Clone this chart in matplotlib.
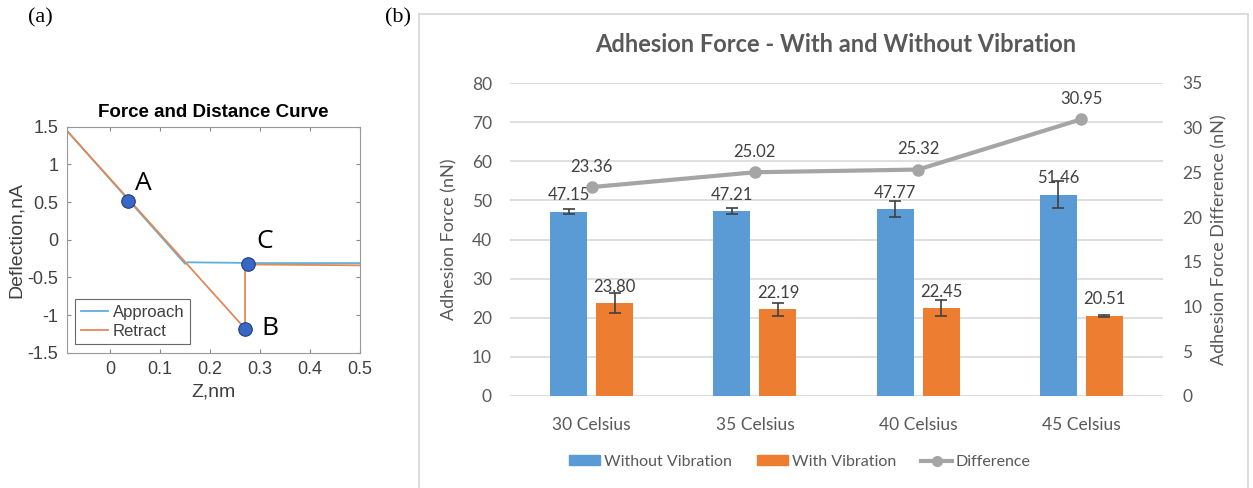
import numpy as np
import matplotlib
matplotlib.use("Agg")
import matplotlib.pyplot as plt
from matplotlib.patches import Patch
from matplotlib.lines import Line2D

# ---- panel (a) data: force / distance curve
approach_z = [-0.087, 0.15, 0.155, 0.30, 0.50]
approach_defl = [1.45, -0.32, -0.30, -0.31, -0.31]
retract_z = [-0.087, 0.27, 0.27, 0.30, 0.50]
retract_defl = [1.45, -1.18, -0.33, -0.33, -0.34]
point_names = ['A', 'B', 'C']
point_z = [0.035, 0.27, 0.275]
point_defl = [0.52, -1.18, -0.32]

# ---- panel (b) data: adhesion force
categories = ['30 Celsius', '35 Celsius', '40 Celsius', '45 Celsius']
without_vib = [47.15, 47.21, 47.77, 51.46]
without_err = [0.75, 0.8, 2.0, 3.4]
with_vib = [23.80, 22.19, 22.45, 20.51]
with_err = [2.5, 1.7, 2.0, 0.3]
difference = [23.36, 25.02, 25.32, 30.95]

W, H = 1253, 488
fig = plt.figure(figsize=(W / 100, H / 100), dpi=100)

def box(x0, y0, x1, y1):
    """pixel box (top-left origin) -> figure fraction rect"""
    return [x0 / W, 1 - y1 / H, (x1 - x0) / W, (y1 - y0) / H]

# panel labels
fig.text(28 / W, 1 - 18 / H, '(a)', family='Liberation Serif', fontsize=16, ha='left', va='center')
fig.text(385 / W, 1 - 18 / H, '(b)', family='Liberation Serif', fontsize=16, ha='left', va='center')

# border around panel (b)
bc = '#d9d9d9'
fig.add_artist(Line2D([419 / W, 419 / W], [0, 1 - 14 / H], color=bc, lw=1.3, transform=fig.transFigure))
fig.add_artist(Line2D([419 / W, 1248 / W], [1 - 14 / H, 1 - 14 / H], color=bc, lw=1.3, transform=fig.transFigure))
fig.add_artist(Line2D([1248 / W, 1248 / W], [0, 1 - 14 / H], color=bc, lw=1.3, transform=fig.transFigure))

# ================= panel (a)
af = 'Liberation Sans'
ac = '#404040'
ax1 = fig.add_axes(box(66.7, 126.7, 360, 352.7))
ax1.plot(approach_z, approach_defl, color='#5fb0d8', lw=1.3, label='Approach')
ax1.plot(retract_z, retract_defl, color='#e08a58', lw=1.3, label='Retract')
ax1.scatter(point_z, point_defl, s=95, color='#3a66c4', edgecolor='#1f3f8a', lw=0.8, zorder=5)
offsets = [(5, 12), (12, 0), (6.5, 16)]
for n, z, d, off in zip(point_names, point_z, point_defl, offsets):
    ax1.annotate(n, (z, d), xytext=off, textcoords='offset points', family='Open Sans',
                 fontsize=19, ha='left', va='center')
ax1.set_xlim(-0.087, 0.5)
ax1.set_ylim(-1.5, 1.5)
xt = [0, 0.1, 0.2, 0.3, 0.4, 0.5]
yt = [-1.5, -1, -0.5, 0, 0.5, 1, 1.5]
ax1.set_xticks(xt)
ax1.set_xticklabels(['0', '0.1', '0.2', '0.3', '0.4', '0.5'], family=af, fontsize=13, color=ac)
ax1.set_yticks(yt)
ax1.set_yticklabels(['-1.5', '-1', '-0.5', '0', '0.5', '1', '1.5'], family=af, fontsize=13, color=ac)
ax1.tick_params(direction='in', top=True, right=True, length=3, color='#888888', pad=6)
for s in ax1.spines.values():
    s.set_color('#999999')
    s.set_linewidth(0.8)
ax1.set_xlabel('Z,nm', family=af, fontsize=14, color=ac, labelpad=4)
ax1.set_ylabel('Deflection,nA', family=af, fontsize=14, color=ac, labelpad=2)
ax1.set_title('Force and Distance Curve', family=af, fontsize=13.5, fontweight='bold', pad=7)
leg1 = ax1.legend(loc='lower left', prop={'family': af, 'size': 12}, fancybox=False,
                  edgecolor='#444444', handlelength=1.6, borderaxespad=0.5, labelspacing=0.2,
                  borderpad=0.35, handletextpad=0.3)
leg1.get_frame().set_linewidth(0.8)
for t in leg1.get_texts():
    t.set_color(ac)

# ================= panel (b)
bf = ['Lato', 'DejaVu Sans']
tc = '#595959'
ax2 = fig.add_axes(box(510, 83, 1163, 396))
x = np.arange(len(categories))
bw = 0.227
off = 0.141
ax2.bar(x - off, without_vib, bw, color='#5b9bd5', zorder=3, label='Without Vibration')
ax2.bar(x + off, with_vib, bw, color='#ed7d31', zorder=3, label='With Vibration')
ax2.errorbar(x - off, without_vib, yerr=without_err, fmt='none', ecolor='#404040', elinewidth=1.2,
             capsize=4, capthick=1.2, zorder=4)
ax2.errorbar(x + off, with_vib, yerr=with_err, fmt='none', ecolor='#404040', elinewidth=1.2,
             capsize=4, capthick=1.2, zorder=4)
for xs, vals in ((x - off, without_vib), (x + off, with_vib)):
    for xi, v in zip(xs, vals):
        ax2.annotate(f'{v:.2f}', (xi, v), xytext=(0, 6), textcoords='offset points',
                     ha='center', va='bottom', family=bf, fontsize=12, color='#404040', zorder=6)
ax2.set_ylim(0, 80)
ax2.set_yticks(range(0, 81, 10))
ax2.set_xlim(-0.5, 3.5)
ax2.set_xticks(x)
ax2.set_xticklabels(categories, family=bf, fontsize=13, color=tc)
ax2.grid(axis='y', color='#d9d9d9', lw=1.2, zorder=0)
ax2.set_axisbelow(True)
for s in ax2.spines.values():
    s.set_visible(False)
ax2.tick_params(length=0, labelsize=12.5, labelcolor=tc, pad=13)
ax2.tick_params(axis='x', pad=15)
for t in ax2.get_yticklabels():
    t.set_family(bf)
ax2.set_ylabel('Adhesion Force (nN)', family=bf, fontsize=13, color=tc, labelpad=10)

ax3 = ax2.twinx()
ax3.plot(x, difference, color='#a5a5a5', lw=3, marker='o', ms=8, zorder=5, label='Difference')
for xi, v in zip(x, difference):
    ax3.annotate(f'{v:.2f}', (xi, v), xytext=(0, 9), textcoords='offset points',
                 ha='center', va='bottom', family=bf, fontsize=12, color='#404040')
ax3.set_ylim(0, 35)
ax3.set_yticks(range(0, 36, 5))
for s in ax3.spines.values():
    s.set_visible(False)
ax3.tick_params(length=0, labelsize=12.5, labelcolor=tc, pad=14)
for t in ax3.get_yticklabels():
    t.set_family(bf)
ax3.set_ylabel('Adhesion Force Difference (nN)', family=bf, fontsize=13, color=tc, labelpad=6)

fig.text(836 / W, 1 - 45 / H, 'Adhesion Force - With and Without Vibration', family=bf,
         fontsize=17, fontweight='bold', color=tc, ha='center', va='center')

handles = [Patch(color='#5b9bd5'), Patch(color='#ed7d31'),
           Line2D([], [], color='#a5a5a5', lw=3, marker='o', ms=7)]
labels = ['Without Vibration', 'With Vibration', 'Difference']
leg2 = fig.legend(handles, labels, loc='center', bbox_to_anchor=(800 / W, 1 - 462 / H), ncol=3,
                  frameon=False, prop={'family': bf, 'size': 11.5}, handlelength=1.9,
                  handleheight=0.6, handletextpad=0.25, columnspacing=1.6)
for t in leg2.get_texts():
    t.set_color(tc)

fig.savefig('out.png', dpi=100)
